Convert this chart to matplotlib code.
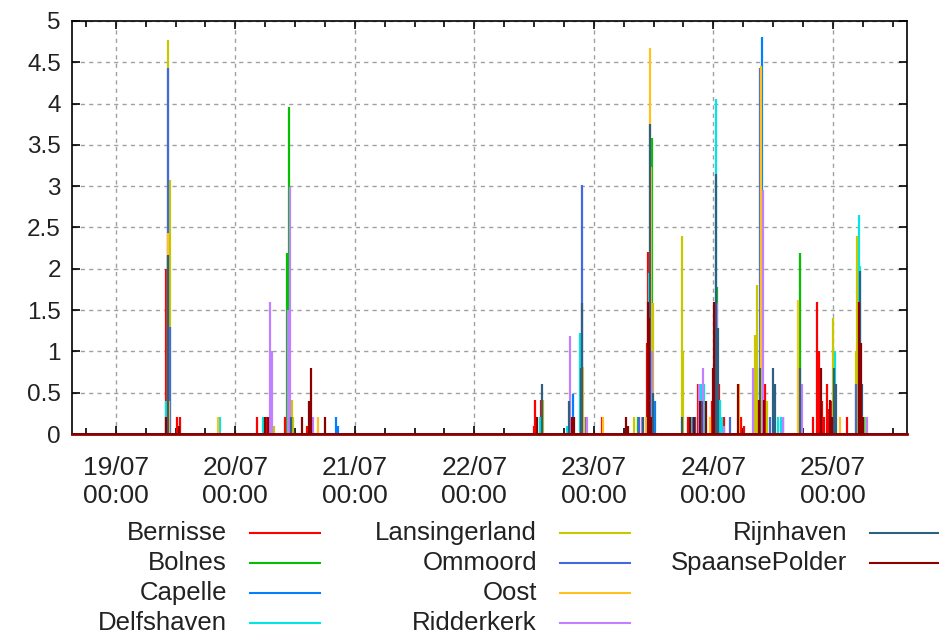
import matplotlib
matplotlib.use("Agg")
import matplotlib.pyplot as plt
import matplotlib.dates as mdates
from matplotlib.lines import Line2D
import numpy as np
import datetime as dt

plt.rcParams['font.family'] = ['Liberation Sans', 'DejaVu Sans']

# hours after 19/07 00:00 and values of each impulse
base = dt.datetime(2016, 7, 19)

stations = ["Bernisse", "Bolnes", "Capelle", "Delfshaven", "Lansingerland",
            "Ommoord", "Oost", "Ridderkerk", "Rijnhaven", "SpaansePolder"]
colors = ["#ff0000", "#00c000", "#0080ff", "#00e5e5", "#c8c800",
          "#4169e1", "#ffc020", "#c080ff", "#306080", "#8b0000"]

bernisse_h = [10.0, 12.2, 12.9, 28.3, 30.1, 33.9, 38.4, 83.9, 84.1, 85.3, 97.6, 106.6, 106.8,
              115.0, 116.9, 119.7, 121.1, 122.1, 125.5, 126.1, 130.3, 140.0, 140.8, 141.2,
              141.8, 142.2, 142.8, 143.2, 143.6, 146.8]
bernisse_v = [2.0, 0.2, 0.2, 0.2, 0.2, 0.2, 0.1, 0.1, 0.41, 0.41, 0.2, 1.1, 2.2,
              0.2, 0.6, 0.4, 0.6, 0.2, 0.2, 0.1, 0.6, 0.2, 1.6, 1.0,
              0.4, 0.2, 0.6, 0.3, 0.4, 0.2]

bolnes_h = [10.4, 34.3, 34.7, 104.8, 107.6, 120.7, 137.3]
bolnes_v = [2.15, 2.19, 3.96, 0.2, 3.58, 1.78, 2.19]

capelle_h = [44.2, 44.6, 91.8, 108.2, 116.0, 129.7, 133.9]
capelle_v = [0.2, 0.1, 0.49, 0.4, 0.2, 4.81, 0.2]

delfshaven_h = [10.0, 20.9, 29.5, 85.1, 90.6, 93.2, 107.0, 115.5, 117.5, 118.1, 120.5,
                121.3, 121.7, 132.9, 133.5, 144.4, 149.2, 149.4, 150.4]
delfshaven_v = [0.4, 0.2, 0.2, 0.2, 0.1, 1.22, 1.95, 0.2, 0.6, 0.6, 4.06,
                0.41, 0.2, 0.2, 0.2, 1.0, 2.65, 2.03, 0.2]

lansingerland_h = [10.4, 10.8, 31.7, 35.3, 35.5, 85.7, 104.0, 107.8, 113.6, 113.8,
                   128.3, 128.7, 130.7, 144.0, 148.6, 148.8, 150.6]
lansingerland_v = [4.77, 3.07, 0.1, 0.41, 0.2, 0.41, 0.2, 1.58, 2.4, 1.0,
                   1.2, 1.8, 0.4, 1.4, 1.0, 2.4, 0.2]

ommoord_h = [10.4, 10.8, 35.1, 93.6, 94.4, 105.0, 116.3, 123.3, 129.3, 131.3, 148.6]
ommoord_v = [4.43, 1.3, 0.2, 3.01, 0.2, 0.2, 0.2, 0.2, 4.43, 0.2, 0.6]

oost_h = [10.4, 10.6, 20.5, 40.6, 93.8, 94.0, 97.8, 106.4, 107.2, 107.4, 119.3, 125.1,
          129.5, 129.7, 136.9, 137.1, 145.4]
oost_v = [2.43, 0.4, 0.2, 0.2, 0.81, 0.2, 0.2, 0.2, 4.67, 3.23, 0.2, 0.6,
          4.46, 2.23, 1.62, 0.8, 0.2]

ridderkerk_h = [30.9, 31.3, 34.5, 34.9, 39.6, 91.2, 91.4, 94.6, 105.6, 107.6, 117.1, 117.9,
                120.7, 122.1, 127.9, 129.9, 133.9, 137.7, 150.8]
ridderkerk_v = [1.6, 1.0, 1.5, 2.99, 0.2, 1.19, 0.2, 0.2, 0.2, 1.0, 0.6, 0.8,
                1.58, 0.1, 0.8, 2.95, 0.2, 0.6, 0.2]

rijnhaven_h = [10.4, 35.1, 85.5, 91.0, 93.4, 93.6, 105.8, 107.2, 107.8, 113.7, 116.3, 117.7,
               120.5, 120.9, 129.3, 131.9, 132.3, 137.3, 144.2, 144.6, 149.4, 149.8]
rijnhaven_v = [2.17, 0.2, 0.6, 0.4, 0.8, 1.58, 0.2, 3.75, 0.5, 0.2, 0.2, 0.4,
               3.15, 1.28, 0.8, 0.8, 0.6, 0.8, 0.8, 0.6, 1.97, 0.6]

spaanse_h = [10.0, 12.6, 29.9, 30.5, 37.3, 38.8, 39.2, 42.0, 84.5, 91.6, 92.0, 102.4, 102.8,
             106.8, 107.0, 107.4, 115.3, 116.1, 117.3, 118.5, 119.9, 120.1, 124.9, 129.1,
             130.1, 141.6, 143.4, 143.8, 149.2, 149.6, 150.0]
spaanse_v = [0.2, 0.1, 0.2, 0.2, 0.2, 0.4, 0.8, 0.2, 0.2, 0.2, 0.2, 0.2, 0.1,
             1.6, 1.4, 0.2, 0.2, 0.2, 0.4, 0.4, 0.8, 1.6, 0.61, 0.41,
             0.41, 0.8, 0.41, 0.2, 1.6, 1.1, 0.2]

series = [(bernisse_h, bernisse_v), (bolnes_h, bolnes_v), (capelle_h, capelle_v),
          (delfshaven_h, delfshaven_v), (lansingerland_h, lansingerland_v),
          (ommoord_h, ommoord_v), (oost_h, oost_v), (ridderkerk_h, ridderkerk_v),
          (rijnhaven_h, rijnhaven_v), (spaanse_h, spaanse_v)]

def to_time(hours):
    return [base + dt.timedelta(hours=h) for h in hours]

fig = plt.figure(figsize=(9.39, 6.36), dpi=100)
ax = fig.add_axes([0.0767, 0.3176, 0.8893, 0.6494])

for (h, v), c in zip(series, colors):
    ax.vlines(to_time(h), 0, v, color=c, lw=1.6)

ax.axhline(0, color="#8b0000", lw=2, zorder=5, clip_on=False)

ax.set_xlim(base - dt.timedelta(hours=8.8), base + dt.timedelta(hours=158.9))
ax.set_ylim(0, 5)
ax.set_yticks(np.arange(0, 5.01, 0.5))
ax.set_yticklabels(["0", "0.5", "1", "1.5", "2", "2.5", "3", "3.5", "4", "4.5", "5"])

ax.xaxis.set_major_locator(mdates.DayLocator())
ax.xaxis.set_minor_locator(mdates.HourLocator(byhour=[6, 12, 18]))
ax.xaxis.set_major_formatter(mdates.DateFormatter("%d/%m\n%H:%M"))

txt = "#222222"
ax.grid(True, which="major", color="#a0a0a0", linestyle=(0, (3, 3)), lw=1)
ax.tick_params(which="both", direction="in", top=True, right=True, labelcolor=txt)
ax.tick_params(which="major", length=6, width=1.2)
ax.tick_params(which="minor", length=4, width=1.2)
ax.tick_params(axis="x", pad=16, labelsize=19)
ax.tick_params(axis="y", pad=8, labelsize=17.5)
for lbl in ax.get_xticklabels():
    lbl.set_linespacing(1.2)
for sp in ax.spines.values():
    sp.set_linewidth(1.2)

# legend laid out like gnuplot's key: 4 rows, text right-aligned before the sample line
W, H = 939, 636
for i, (name, c) in enumerate(zip(stations, colors)):
    col, row = i // 4, i % 4
    y = 1 - (533 + 30 * row) / H
    xt = (227 + 310 * col) / W
    fig.text(xt, y, name, ha="right", va="center", fontsize=18.5, color=txt)
    x0 = (250 + 310 * col) / W
    x1 = (320 + 310 * col) / W
    fig.add_artist(Line2D([x0, x1], [y, y], color=c, lw=1.5, transform=fig.transFigure))

fig.savefig("out.png", dpi=100)
